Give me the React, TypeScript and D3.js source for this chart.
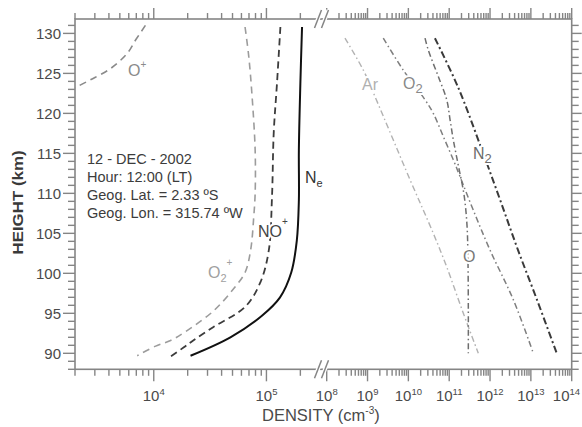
import React from 'react';
import * as d3 from 'd3';

const W = 582;
const H = 427;

// Axis values
const yMajorTicks = [90, 95, 100, 105, 110, 115, 120, 125, 130];
const leftDecades = [4, 5];
const rightDecades = [8, 9, 10, 11, 12, 13, 14];

// Ion species (left panel) — height (km) / density (cm^-3)
const oPlusH = [131.0, 129.2, 127.5, 125.6, 124.2, 123.2];
const oPlusN = [8.43e3, 6.92e3, 5.81e3, 4.13e3, 2.74e3, 2.0e3];

const o2PlusH = [130.8, 127.1, 122.1, 115.4, 110, 107, 102.9, 100.1, 98.1, 95.3, 92.7, 91.6, 90.9, 89.7];
const o2PlusN = [6.46e4, 6.97e4, 7.46e4, 7.94e4, 7.94e4, 7.71e4, 7.24e4, 6.46e4, 5.13e4, 3.39e4, 1.91e4, 1.41e4, 1.04e4, 7.13e3];

const noPlusH = [130.8, 123.7, 117.5, 109.5, 102.9, 98.9, 95.8, 93.3, 91.6, 90.75, 89.6];
const noPlusN = [1.33e5, 1.24e5, 1.16e5, 1.12e5, 1.05e5, 8.85e4, 6.46e4, 3.39e4, 2.24e4, 1.85e4, 1.41e4];

const neH = [130.8, 123.7, 115.4, 109.1, 104.1, 100.1, 97.0, 94.7, 92.0, 89.7];
const neN = [2.07e5, 2.0e5, 1.94e5, 1.94e5, 1.86e5, 1.66e5, 1.32e5, 9.12e4, 4.79e4, 2.12e4];

// Neutral species (right panel)
const arH = [129.4, 125.4, 122.1, 111.7, 105.0, 100.8, 95.0, 90.0];
const arN = [2.8e8, 7.9e8, 1.52e9, 1.1e10, 4.08e10, 8.69e10, 2.22e11, 5.16e11];

const o2H = [129.4, 125.4, 121.7, 120.0, 117.1, 114.2, 112.1, 107.9, 102.9, 96.7, 90.0];
const o2N = [2.43e9, 7.52e9, 2.56e10, 4.08e10, 7.18e10, 1.26e11, 1.84e11, 3.89e11, 1.0e12, 3.72e12, 1.15e13];

const oH = [129.4, 127.9, 124.6, 121.7, 119.2, 116.7, 113.5, 109.8, 106.0, 101.7, 95.4, 90.0];
const oN = [2.56e10, 3.08e10, 5.41e10, 8.69e10, 1.05e11, 1.26e11, 1.67e11, 2.31e11, 2.73e11, 2.88e11, 2.94e11, 2.94e11];

const n2H = [129.4, 123.3, 115.4, 109.2, 102.9, 96.7, 90.0];
const n2N = [4.47e10, 1.64e11, 6.37e11, 1.76e12, 4.85e12, 1.41e13, 4.3e13];

const infoLines = ['12 - DEC - 2002', 'Hour: 12:00 (LT)', 'Geog. Lat. = 2.33 ºS', 'Geog. Lon. = 315.74 ºW'];

const FONT = "'Liberation Sans', Arial, Helvetica, sans-serif";

export default function App() {
  const left = 75, right = 571.7, top = 19, bottom = 369.3;
  const xL = d3.scaleLog().domain([2e3, 3e5]).range([left, 320.2]);
  const xR = d3.scaleLog().domain([1e8, 1e14]).range([326.7, right]);
  const y = d3.scaleLinear().domain([88, 131.8]).range([bottom, top]);

  const mkPath = (sx: any, hs: number[], ns: number[]) => {
    const pts: [number, number][] = hs.map((h, i) => [sx(ns[i]), y(h)]);
    return d3.line().curve(d3.curveCatmullRom.alpha(0.5))(pts) || '';
  };

  const axisColor = '#858585';
  const tickColor = '#858585';
  const labelColor = '#4a4a4a';

  const leftTicks = xL.ticks().filter((t) => t < 2.9e5);
  const rightTicks = xR.ticks();
  const isPow10 = (t: number) => Math.abs(Math.log10(t) - Math.round(Math.log10(t))) < 1e-6;

  const yTicks = d3.range(88, 132, 1);

  const xTickEls: React.ReactNode[] = [];
  const addX = (sx: any, t: number, key: string) => {
    const x = sx(t);
    const major = isPow10(t);
    xTickEls.push(
      <line key={'b' + key} x1={x} x2={x} y1={bottom} y2={bottom + (major ? 12 : 6.5)} stroke={tickColor} strokeWidth={1.4} />,
      <line key={'t' + key} x1={x} x2={x} y1={top} y2={top - (major ? 11 : 6)} stroke={tickColor} strokeWidth={1.4} />
    );
  };
  leftTicks.forEach((t, i) => addX(xL, t, 'l' + i));
  rightTicks.forEach((t, i) => addX(xR, t, 'r' + i));

  const halo = { paintOrder: 'stroke' as any, stroke: '#fff', strokeWidth: 4, strokeLinejoin: 'round' as any };

  const slashes = (cy: number, key: string) =>
    [318, 325].map((cx, i) => (
      <g key={key + i}>
        <line x1={cx - 3.5} x2={cx + 3.5} y1={cy + 9} y2={cy - 9} stroke="#fff" strokeWidth={4} />
        <line x1={cx - 3.5} x2={cx + 3.5} y1={cy + 9} y2={cy - 9} stroke={axisColor} strokeWidth={1.5} />
      </g>
    ));

  return (
    <svg width={W} height={H} style={{ position: 'absolute', left: 0, top: 0, background: '#fff' }} fontFamily={FONT}>
      <rect x={0} y={0} width={W} height={H} fill="#fff" />

      {/* curves: left panel */}
      <path d={mkPath(xL, oPlusH, oPlusN)} fill="none" stroke="#8a8a8a" strokeWidth={1.6} strokeDasharray="7 5" />
      <path d={mkPath(xL, o2PlusH, o2PlusN)} fill="none" stroke="#9c9c9c" strokeWidth={1.6} strokeDasharray="7 5" />
      <path d={mkPath(xL, noPlusH, noPlusN)} fill="none" stroke="#3c3c3c" strokeWidth={1.8} strokeDasharray="7 4.5" />
      <path d={mkPath(xL, neH, neN)} fill="none" stroke="#111" strokeWidth={2} />

      {/* curves: right panel */}
      <path d={mkPath(xR, arH, arN)} fill="none" stroke="#b2b2b2" strokeWidth={1.4} strokeDasharray="6 3 1.5 3" />
      <path d={mkPath(xR, o2H, o2N)} fill="none" stroke="#7e7e7e" strokeWidth={1.5} strokeDasharray="6 3 1.5 3" />
      <path d={mkPath(xR, oH, oN)} fill="none" stroke="#6e6e6e" strokeWidth={1.5} strokeDasharray="6 3 1.5 3" />
      <path d={mkPath(xR, n2H, n2N)} fill="none" stroke="#3a3a3a" strokeWidth={2} strokeDasharray="7 3 2 3" />

      {/* frame */}
      <rect x={left} y={top} width={right - left} height={bottom - top} fill="none" stroke={axisColor} strokeWidth={1.6} />

      {/* y ticks */}
      {yTicks.map((v) => {
        const major = v % 5 === 0;
        const yy = y(v);
        return (
          <g key={'y' + v}>
            <line x1={left} x2={left - (major ? 12 : 7)} y1={yy} y2={yy} stroke={tickColor} strokeWidth={1.4} />
            <line x1={right} x2={right + (major ? 10 : 7)} y1={yy} y2={yy} stroke={tickColor} strokeWidth={1.4} />
          </g>
        );
      })}
      {yMajorTicks.map((v) => (
        <text key={'yl' + v} x={61} y={y(v) + 5.2} textAnchor="end" fontSize={15} fill={labelColor}>
          {v}
        </text>
      ))}

      {/* x ticks */}
      {xTickEls}
      {leftDecades.map((e) => (
        <text key={'xl' + e} x={xL(Math.pow(10, e))} y={401} textAnchor="middle" fontSize={15} fill={labelColor}>
          10<tspan fontSize={9.5} dy={-6}>{e}</tspan>
        </text>
      ))}
      {rightDecades.map((e) => (
        <text key={'xr' + e} x={Math.min(xR(Math.pow(10, e)), W - 15.5)} y={401} textAnchor="middle" fontSize={15} fill={labelColor}>
          10<tspan fontSize={9.5} dy={-6}>{e}</tspan>
        </text>
      ))}

      {/* axis breaks */}
      {slashes(top, 'st')}
      {slashes(bottom, 'sb')}

      {/* axis titles */}
      <text x={262} y={421} fontSize={16.5} fill="#4a4a4a">
        DENSITY (cm<tspan fontSize={10} dy={-7}>-3</tspan><tspan dy={7}>)</tspan>
      </text>
      <text
        transform="translate(22.5,202.5) rotate(-90)"
        textAnchor="middle"
        fontSize={15.5}
        fontWeight="bold"
        fill="#3a3a3a"
        textLength={104}
        lengthAdjust="spacingAndGlyphs"
      >
        HEIGHT (km)
      </text>

      {/* info block */}
      {infoLines.map((s, i) => (
        <text key={'info' + i} x={87} y={163.5 + i * 18} fontSize={14.5} fill="#3c3c3c">
          {s}
        </text>
      ))}

      {/* curve labels */}
      <text x={128} y={75.5} fontSize={16} fill="#8a8a8a" {...halo}>
        O<tspan fontSize={10} dy={-8}>+</tspan>
      </text>
      <text x={208} y={278} fontSize={16} fill="#a0a0a0" {...halo}>
        O<tspan fontSize={11} dy={4}>2</tspan><tspan fontSize={10} dy={-16}>+</tspan>
      </text>
      <text x={258} y={237} fontSize={16} fill="#444" {...halo}>
        NO<tspan fontSize={10} dy={-12}>+</tspan>
      </text>
      <text x={305} y={183} fontSize={16} fill="#333" {...halo}>
        N<tspan fontSize={11} dy={4}>e</tspan>
      </text>
      <text x={362} y={90} fontSize={16} fill="#b0b0b0" {...halo}>
        Ar
      </text>
      <text x={403} y={89} fontSize={16} fill="#888" {...halo}>
        O<tspan fontSize={13} dy={4}>2</tspan>
      </text>
      <text x={473} y={159} fontSize={16} fill="#6a6a6a" {...halo}>
        N<tspan fontSize={13} dy={4}>2</tspan>
      </text>
      <text x={463} y={262} fontSize={16} fill="#777" {...halo}>
        O
      </text>
    </svg>
  );
}
